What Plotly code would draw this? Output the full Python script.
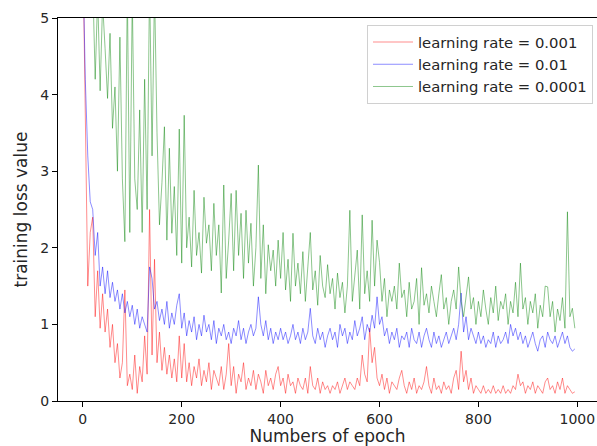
import plotly.graph_objects as go

# epochs sampled every 5
epochs = list(range(0, 1000, 5))

loss_lr_0001 = [  # learning rate = 0.001 (red)
    6.0, 3.6, 1.5, 2.2, 2.4, 1.1, 1.7, 0.95, 1.4, 0.9,
    1.2, 0.7, 1.0, 0.5, 0.75, 0.3, 0.5, 1.45, 0.2, 0.35,
    0.15, 0.6, 0.1, 0.45, 0.25, 0.85, 0.35, 2.5, 0.6, 1.85,
    0.5, 0.9, 0.4, 0.7, 0.35, 0.6, 0.3, 0.55, 0.25, 0.85,
    0.3, 0.75, 0.25, 0.5, 0.2, 0.45, 0.3, 0.55, 0.2, 0.4,
    0.25, 0.5, 0.15, 0.4, 0.3, 0.2, 0.45, 0.15, 0.35, 0.75,
    0.2, 0.45, 0.1, 0.35, 0.25, 0.5, 0.15, 0.3, 0.2, 0.4,
    0.15, 0.35, 0.25, 0.1, 0.4, 0.2, 0.3, 0.15, 0.35, 0.45,
    0.2, 0.3, 0.1, 0.35, 0.2, 0.25, 0.1, 0.3, 0.2, 0.15,
    0.3, 0.1, 0.45, 0.2, 0.15, 0.3, 0.1, 0.25, 0.15, 0.2,
    0.1, 0.2, 0.15, 0.25, 0.1, 0.2, 0.3, 0.15, 0.25, 0.2,
    0.15, 0.3, 0.2, 0.6, 0.35, 0.25, 0.95, 0.5, 0.7, 0.3,
    0.2, 0.35, 0.15, 0.3, 0.1, 0.25, 0.2, 0.15, 0.3, 0.4,
    0.2, 0.1, 0.25, 0.15, 0.3, 0.1, 0.2, 0.15, 0.25, 0.45,
    0.2, 0.1, 0.3, 0.15, 0.2, 0.1, 0.25, 0.15, 0.2, 0.1,
    0.3, 0.4, 0.15, 0.65, 0.25, 0.4, 0.15, 0.3, 0.1, 0.2,
    0.15, 0.1, 0.2, 0.1, 0.15, 0.1, 0.2, 0.1, 0.15, 0.1,
    0.2, 0.1, 0.15, 0.1, 0.2, 0.15, 0.35, 0.2, 0.25, 0.1,
    0.2, 0.15, 0.25, 0.1, 0.2, 0.15, 0.1, 0.25, 0.3, 0.15,
    0.2, 0.1, 0.25, 0.15, 0.3, 0.1, 0.2, 0.15, 0.1, 0.12,
]

loss_lr_001 = [  # learning rate = 0.01 (blue)
    5.8, 4.2, 3.2, 2.6, 2.5, 1.9, 2.2, 1.5, 1.75, 1.4,
    1.7, 1.35, 1.55, 1.3, 1.45, 1.2, 1.4, 1.15, 1.3, 1.1,
    1.25, 1.0, 1.2, 0.95, 1.1, 1.0, 0.9, 1.75, 1.6, 1.2,
    1.3, 1.05, 1.2, 1.0, 1.3, 0.95, 1.15, 1.0, 1.25, 1.4,
    0.95, 1.15, 0.85, 1.05, 0.9, 1.1, 0.8, 1.0, 0.85, 1.12,
    0.9, 1.0, 0.8, 1.05, 0.75, 0.95, 0.85, 1.0, 0.8, 0.9,
    0.75, 0.95, 0.85, 1.05, 0.8, 0.95, 0.75, 0.9, 1.0, 0.85,
    0.95, 1.36, 1.0, 0.85, 1.05, 0.8, 0.95, 0.75, 0.9, 0.8,
    0.95, 0.8, 0.9, 0.75, 0.85, 1.0, 0.8, 0.9, 0.75, 0.95,
    0.8, 0.9, 1.21, 0.85, 0.75, 0.95, 0.8, 0.9, 0.7, 0.85,
    0.95, 0.8, 0.9, 0.7, 1.0, 0.85, 0.95, 0.75, 0.9, 0.8,
    1.05, 0.85, 0.95, 1.1, 0.8, 1.0, 0.9, 1.12, 0.95, 1.36,
    1.0, 1.1, 0.85, 0.95, 0.75, 0.9, 0.8, 0.95, 0.7, 0.85,
    0.8, 0.9, 0.7, 0.95, 0.8, 0.75, 0.9, 0.7, 0.85, 0.95,
    0.8, 0.7, 0.9, 0.75, 0.85, 0.7, 0.8, 0.9, 0.75, 0.85,
    0.95, 0.8, 1.0, 1.41, 0.9, 1.1, 0.8, 0.95, 0.85, 0.75,
    0.9, 0.75, 0.85, 0.7, 0.8, 0.75, 0.9, 0.7, 0.85, 0.75,
    0.8, 0.9, 0.75, 1.0, 0.85, 0.95, 0.8, 0.9, 0.75, 0.85,
    0.7, 0.8, 0.9, 0.75, 0.65, 0.8, 0.85, 0.7, 0.9, 0.8,
    0.75, 0.85, 0.7, 0.8, 0.9, 0.75, 0.85, 0.7, 0.65, 0.68,
]

loss_lr_00001 = [  # learning rate = 0.0001 (green)
    8.0, 7.0, 6.2, 5.8, 5.5, 4.2, 5.3, 4.05, 5.2, 4.6,
    3.95, 4.8, 3.56, 4.1, 3.0, 4.75, 2.9, 2.08, 5.4, 2.2,
    5.3, 2.9, 2.5, 3.8, 2.2, 4.2, 2.5, 5.5, 3.2, 5.4,
    3.5, 2.3, 2.85, 3.58, 2.1, 3.3, 2.19, 2.8, 1.9, 3.55,
    1.8, 3.73, 2.0, 2.4, 1.75, 2.75, 1.9, 2.2, 1.67, 2.66,
    2.06, 2.3, 1.7, 2.58, 1.9, 2.3, 1.41, 2.82, 1.6, 2.1,
    2.71, 1.7, 2.75, 1.9, 2.45, 1.6, 2.49, 1.8, 2.32, 1.5,
    2.0, 3.08, 1.6, 2.3, 1.4, 2.04, 1.7, 1.97, 1.5, 2.1,
    1.6, 2.2, 1.45, 1.85, 1.3, 2.19, 1.5, 1.8, 1.4, 1.95,
    1.3, 1.75, 2.2, 1.45, 1.7, 1.25, 1.9, 1.5, 1.35, 1.78,
    1.4, 1.6, 1.2, 1.67, 1.35, 1.55, 1.15, 1.5, 2.49, 1.3,
    1.6, 1.97, 1.2, 2.43, 1.4, 1.7, 1.3, 2.36, 1.5, 2.1,
    1.81, 1.3, 1.6, 1.1, 1.45, 1.3, 1.5, 1.2, 1.8, 1.35,
    1.45, 1.1, 1.55, 1.2, 1.3, 1.6, 1.0, 1.74, 1.25, 1.4,
    1.15, 1.5, 1.3, 1.1, 1.4, 1.65, 1.2, 1.35, 1.0, 1.3,
    1.45, 1.2, 1.75, 1.3, 1.1, 1.4, 1.62, 1.2, 1.35, 1.0,
    1.3, 1.1, 1.45, 1.2, 1.0, 1.35, 1.15, 1.5, 1.05, 1.3,
    1.2, 1.4, 1.0, 1.3, 1.15, 1.55, 1.1, 1.8, 1.2, 1.35,
    1.0, 1.3, 1.15, 1.4, 0.95, 1.25, 1.1, 1.5, 1.49, 1.1,
    1.3, 0.9, 1.2, 1.05, 1.35, 0.95, 2.47, 1.1, 1.21, 0.95,
]

series_names = ["learning rate = 0.001", "learning rate = 0.01", "learning rate = 0.0001"]
series_colors = ["rgba(255,0,0,0.45)", "rgba(0,0,255,0.45)", "rgba(0,128,0,0.45)"]
x_ticks = [0, 200, 400, 600, 800, 1000]
y_ticks = [0, 1, 2, 3, 4, 5]

FONT = "DejaVu Sans"
fig = go.Figure()
for name, vals, col in zip(series_names, [loss_lr_0001, loss_lr_001, loss_lr_00001], series_colors):
    fig.add_trace(go.Scatter(x=epochs, y=vals, mode="lines", name=name,
                             line=dict(color=col, width=1)))

fig.update_layout(
    width=597, height=446,
    margin=dict(l=58, r=0, t=18, b=45, autoexpand=False),
    paper_bgcolor="white", plot_bgcolor="white",
    font=dict(family=FONT, size=14, color="#262626"),
    showlegend=True,
    legend=dict(x=0.9926, y=0.982, xanchor="right", yanchor="top",
                bgcolor="rgba(255,255,255,0.8)", bordercolor="#d0d0d0", borderwidth=1,
                font=dict(family=FONT, size=14.8, color="#262626"),
                itemwidth=40, tracegroupgap=0),
)
fig.update_xaxes(
    range=[-50.2, 1039.8], tickvals=x_ticks, ticks="outside", ticklen=5, tickwidth=1,
    tickcolor="black", showline=True, linecolor="black", linewidth=1, mirror=True,
    showgrid=False, zeroline=False, automargin=False,
    title=dict(text="Numbers of epoch", standoff=2),
)
fig.update_yaxes(
    range=[0, 5], tickvals=y_ticks, ticks="outside", ticklen=5, tickwidth=1,
    tickcolor="black", showline=True, linecolor="black", linewidth=1,
    showgrid=False, zeroline=False, automargin=False,
    title=dict(text="training loss value", standoff=8),
)
fig.write_html("out.html", config={"displayModeBar": False},
               post_script="document.body.style.margin='0px';document.body.style.overflow='hidden';")
